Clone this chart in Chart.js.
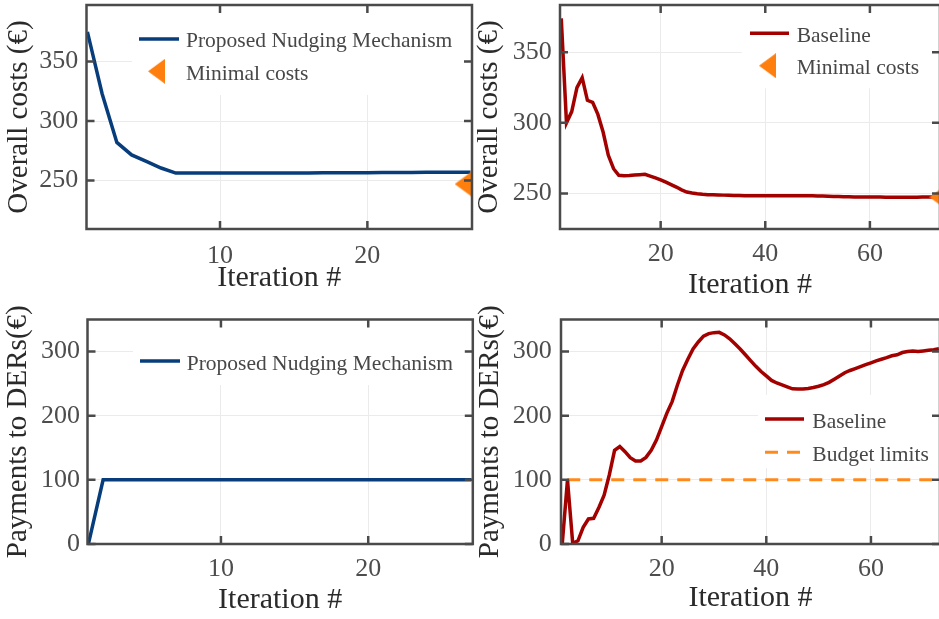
<!DOCTYPE html>
<html>
<head>
<meta charset="utf-8">
<script src="https://cdn.jsdelivr.net/npm/chart.js@4.4.0/dist/chart.umd.min.js"></script>
<style>
  html, body { margin: 0; padding: 0; background: #ffffff; }
  body { width: 939px; height: 619px; position: relative; overflow: hidden; }
  canvas { position: absolute; }
</style>
</head>
<body>
<canvas id="costNudge" style="left:0px;top:0px" width="476" height="305"></canvas>
<canvas id="costBase" style="left:470px;top:0px" width="472" height="305"></canvas>
<canvas id="payNudge" style="left:0px;top:305px" width="476" height="314"></canvas>
<canvas id="payBase" style="left:470px;top:305px" width="472" height="314"></canvas>
<script>
// ---- data -------------------------------------------------------------
const iterationsNudge = [1, 2, 3, 4, 5, 6, 7, 8, 9, 10, 11, 12, 13, 14, 15, 16, 17, 18, 19, 20,
  21, 22, 23, 24, 25, 26, 27];
const iterationsBase = [1, 2, 3, 4, 5, 6, 7, 8, 9, 10, 11, 12, 13, 14, 15, 16, 17, 18, 19, 20,
  21, 22, 23, 24, 25, 26, 27, 28, 29, 30, 31, 32, 33, 34, 35, 36, 37, 38, 39, 40,
  41, 42, 43, 44, 45, 46, 47, 48, 49, 50, 51, 52, 53, 54, 55, 56, 57, 58, 59, 60,
  61, 62, 63, 64, 65, 66, 67, 68, 69, 70, 71, 72, 73];

// overall costs (EUR) per iteration
const costNudge = [375, 323, 282, 271.5, 266, 260.5, 256.2, 256.2, 256.2, 256.2, 256.2, 256.2, 256.3,
  256.3, 256.4, 256.4, 256.5, 256.5, 256.6, 256.6, 256.7, 256.8, 256.8, 256.9, 257, 257, 257];
const costBase = [374, 300, 308, 325, 332, 316, 314.5, 306, 293.5, 277, 267.5, 262.8, 262.5, 262.7,
  263, 263.3, 263.5, 262.3, 261, 259.6, 258, 256.3, 254.5, 252.5, 251, 250.3, 249.8, 249.4,
  249.1, 249, 248.9, 248.8, 248.7, 248.6, 248.5, 248.4, 248.4, 248.3, 248.3, 248.3, 248.3,
  248.3, 248.3, 248.4, 248.4, 248.4, 248.4, 248.4, 248.3, 248.2, 248.1, 248, 247.9, 247.8,
  247.7, 247.6, 247.5, 247.5, 247.4, 247.4, 247.4, 247.4, 247.3, 247.3, 247.3, 247.3, 247.3,
  247.3, 247.3, 247.4, 247.4, 247.4, 247.4];

// payments to DERs (EUR) per iteration
const payNudge = [0, 100, 100, 100, 100, 100, 100, 100, 100, 100, 100, 100, 100, 100, 100, 100,
  100, 100, 100, 100, 100, 100, 100, 100, 100, 100, 100];
const payBase = [0, 100, 1, 5, 26, 39, 40, 57, 76, 108, 146, 152, 144, 134.5, 129.5, 129.5, 135,
  146, 162, 183, 204, 222, 247.5, 270.5, 288, 304, 315, 324, 328, 329.5, 330, 326, 320, 312,
  304, 295, 286, 277, 269, 262, 255, 251, 248, 245, 242, 241.5, 241.5, 242.5, 244, 246,
  248.5, 252, 257, 262, 267, 270.5, 273.5, 276.5, 279.5, 282.5, 285.5, 288, 290.5, 293.5,
  295, 298.5, 300, 301, 300, 301, 302, 303, 304.5];
const budgetLimit = 100;

// minimal achievable cost
const minimalCostNudge = { iteration: 26.5, cost: 247 };
const minimalCostBase = { iteration: 73, cost: 247.4 };

// tick labels
const xTicksNudge = [10, 20];
const xTicksBase = [20, 40, 60];
const yTicksCost = [250, 300, 350];
const yTicksPay = [0, 100, 200, 300];

// ---- styling ----------------------------------------------------------
const SERIF = "'Liberation Serif', 'Times New Roman', serif";
const BLUE = '#083d7b';
const RED = '#a30000';
const ORANGE = '#ff7f0e';
const BUDGET = '#ff8a1c';
const FRAME = '#4a4a4a';
const GRID = '#ebebeb';
const TICK_TXT = '#4d4d4d';
const TITLE_TXT = '#2a2a2a';
const LEGEND_TXT = '#474747';

Chart.defaults.font.family = SERIF;

function leftTriangle(w, h, color) {
  const c = document.createElement('canvas');
  c.width = w; c.height = h;
  const g = c.getContext('2d');
  g.fillStyle = color;
  g.beginPath();
  g.moveTo(0, h / 2);
  g.lineTo(w, 0);
  g.lineTo(w, h);
  g.closePath();
  g.fill();
  return c;
}
const triangleMarker = leftTriangle(17, 25, ORANGE);

function points(xs, ys) {
  return ys.map((y, i) => ({ x: xs[i], y }));
}

// box with inward ticks on all four sides
const framePlugin = {
  id: 'frameBox',
  afterDraw(chart) {
    const { ctx, chartArea: a, scales } = chart;
    const len = 8;
    ctx.save();
    ctx.strokeStyle = FRAME;
    ctx.lineWidth = 2.5;
    ctx.beginPath();
    scales.x.ticks.forEach(t => {
      const px = scales.x.getPixelForValue(t.value);
      ctx.moveTo(px, a.bottom); ctx.lineTo(px, a.bottom - len);
      ctx.moveTo(px, a.top); ctx.lineTo(px, a.top + len);
    });
    scales.y.ticks.forEach(t => {
      const py = scales.y.getPixelForValue(t.value);
      ctx.moveTo(a.left, py); ctx.lineTo(a.left + len, py);
      ctx.moveTo(a.right, py); ctx.lineTo(a.right - len, py);
    });
    ctx.stroke();
    ctx.strokeRect(a.left, a.top, a.right - a.left, a.bottom - a.top);
    ctx.restore();
  }
};

// legend placed inside the axes, on a white patch
const insideLegendPlugin = {
  id: 'insideLegend',
  beforeDatasetsDraw(chart, args, opts) {
    const b = opts.box;
    const ctx = chart.ctx;
    ctx.save();
    ctx.fillStyle = '#ffffff';
    ctx.fillRect(b[0], b[1], b[2] - b[0], b[3] - b[1]);
    ctx.restore();
  },
  afterDatasetsDraw(chart, args, opts) {
    const ctx = chart.ctx;
    ctx.save();
    opts.items.forEach((it, i) => {
      const ds = chart.data.datasets[i];
      if (ds.showLine === false) {
        const img = ds.pointStyle;
        ctx.drawImage(img, it.x0 + (it.x1 - it.x0) / 2 - img.width / 2, it.y - img.height / 2);
      } else {
        ctx.strokeStyle = ds.borderColor;
        ctx.lineWidth = ds.borderWidth;
        ctx.setLineDash(ds.borderDash || []);
        ctx.beginPath();
        ctx.moveTo(it.x0, it.y);
        ctx.lineTo(it.x1, it.y);
        ctx.stroke();
        ctx.setLineDash([]);
      }
      ctx.fillStyle = LEGEND_TXT;
      ctx.font = '21.5px ' + SERIF;
      ctx.textBaseline = 'alphabetic';
      ctx.textAlign = 'left';
      ctx.fillText(ds.label, it.tx, it.ty);
    });
    ctx.restore();
  }
};

function makeScales(cfg) {
  return {
    x: {
      type: 'linear',
      min: cfg.xMin,
      max: cfg.xMax,
      afterBuildTicks: s => { s.ticks = cfg.xTicks.map(v => ({ value: v })); },
      afterFit: s => { s.height = cfg.xHeight; s.paddingLeft = 0; s.paddingRight = 0; },
      grid: { color: GRID, lineWidth: 1, drawTicks: false },
      border: { display: false },
      ticks: { font: { size: 26 }, color: TICK_TXT, padding: cfg.xTickPad, maxRotation: 0 },
      title: {
        display: true, text: 'Iteration #', color: TITLE_TXT,
        font: { size: 30 }, padding: { top: 0, bottom: cfg.xTitlePad }
      }
    },
    y: {
      type: 'linear',
      min: cfg.yMin,
      max: cfg.yMax,
      afterBuildTicks: s => { s.ticks = cfg.yTicks.map(v => ({ value: v })); },
      afterFit: s => { s.width = cfg.yWidth; s.paddingTop = 0; s.paddingBottom = 0; },
      grid: { color: GRID, lineWidth: 1, drawTicks: false },
      border: { display: false },
      ticks: { font: { size: 26 }, color: TICK_TXT, padding: cfg.yTickPad },
      title: {
        display: true, text: cfg.yTitle, color: TITLE_TXT,
        font: { size: 29 }, padding: { top: cfg.yTitlePad, bottom: 0 }
      }
    }
  };
}

function lineSet(label, xs, ys, color, extra) {
  return Object.assign({
    label,
    data: points(xs, ys),
    borderColor: color,
    backgroundColor: color,
    borderWidth: 3.5,
    pointRadius: 0,
    tension: 0,
    fill: false
  }, extra || {});
}

// marker series is drawn above the curves (lowest order is painted last)
function markerSet(label, pt) {
  return {
    label,
    data: [{ x: pt.iteration, y: pt.cost }],
    showLine: false,
    order: -1,
    pointStyle: triangleMarker,
    pointRadius: 10,
    borderColor: ORANGE,
    backgroundColor: ORANGE
  };
}

function makeChart(id, datasets, scaleCfg, padding, legend) {
  return new Chart(document.getElementById(id), {
    type: 'line',
    data: { datasets },
    options: {
      responsive: false,
      animation: false,
      devicePixelRatio: 1,
      layout: { padding, autoPadding: false },
      scales: makeScales(scaleCfg),
      plugins: {
        legend: { display: false },
        tooltip: { enabled: false },
        insideLegend: legend
      }
    },
    plugins: [insideLegendPlugin, framePlugin]
  });
}

// ---- top left: overall costs, nudging mechanism -------------------------
makeChart('costNudge',
  [lineSet('Proposed Nudging Mechanism', iterationsNudge, costNudge, BLUE),
   markerSet('Minimal costs', minimalCostNudge)],
  { xMin: 0.94, xMax: 27.1, yMin: 209.2, yMax: 397.6, xTicks: xTicksNudge, yTicks: yTicksCost,
    xHeight: 76, yWidth: 86.5, xTickPad: 12, yTickPad: 8.2, xTitlePad: 8.5, yTitlePad: 1.6,
    yTitle: 'Overall costs (€)' },
  { top: 5, right: 4, bottom: 0, left: 0 },
  { box: [132, 5, 472, 95],
    items: [{ x0: 139, x1: 179, y: 39, tx: 186, ty: 47.3 },
            { x0: 148, x1: 165, y: 71.3, tx: 186, ty: 80 }] });

// ---- top right: overall costs, baseline ----------------------------------
makeChart('costBase',
  [lineSet('Baseline', iterationsBase, costBase, RED),
   markerSet('Minimal costs', minimalCostBase)],
  { xMin: 0.76, xMax: 73.4, yMin: 224.8, yMax: 383.5, xTicks: xTicksBase, yTicks: yTicksCost,
    xHeight: 76, yWidth: 90, xTickPad: 10, yTickPad: 8.3, xTitlePad: 1.9, yTitlePad: 2.3,
    yTitle: 'Overall costs (€)' },
  { top: 5, right: 2, bottom: 0, left: 0 },
  { box: [271.7, 5, 470, 88.3],
    items: [{ x0: 280, x1: 319, y: 33.3, tx: 326.7, ty: 41.7 },
            { x0: 289, x1: 306, y: 65.7, tx: 326.7, ty: 74 }] });

// ---- bottom left: payments, nudging mechanism -----------------------------
makeChart('payNudge',
  [lineSet('Proposed Nudging Mechanism', iterationsNudge, payNudge, BLUE)],
  { xMin: 0.94, xMax: 27.1, yMin: 0, yMax: 350, xTicks: xTicksNudge, yTicks: yTicksPay,
    xHeight: 75, yWidth: 87.5, xTickPad: 10, yTickPad: 7.5, xTitlePad: 0.9, yTitlePad: 1.1,
    yTitle: 'Payments to DERs(€)' },
  { top: 14.5, right: 3.2, bottom: 0, left: 0 },
  { box: [133, 14.5, 472.8, 80],
    items: [{ x0: 140, x1: 180, y: 56, tx: 186.7, ty: 65 }] });

// ---- bottom right: payments, baseline -------------------------------------
makeChart('payBase',
  [lineSet('Baseline', iterationsBase, payBase, RED),
   lineSet('Budget limits', [iterationsBase[0], iterationsBase[iterationsBase.length - 1]],
     [budgetLimit, budgetLimit], BUDGET, { borderWidth: 3, borderDash: [13, 9], borderDashOffset: 17 })],
  { xMin: 0.76, xMax: 73.2, yMin: 0, yMax: 350, xTicks: xTicksBase, yTicks: yTicksPay,
    xHeight: 75, yWidth: 91, xTickPad: 10, yTickPad: 9.3, xTitlePad: 2.6, yTitlePad: 2.8,
    yTitle: 'Payments to DERs(€)' },
  { top: 14.5, right: 2, bottom: 0, left: 0 },
  { box: [288, 90, 470, 163],
    items: [{ x0: 295, x1: 334, y: 114, tx: 342.3, ty: 123.3 },
            { x0: 295, x1: 334, y: 147.3, tx: 342.3, ty: 155.7 }] });
</script>
</body>
</html>
